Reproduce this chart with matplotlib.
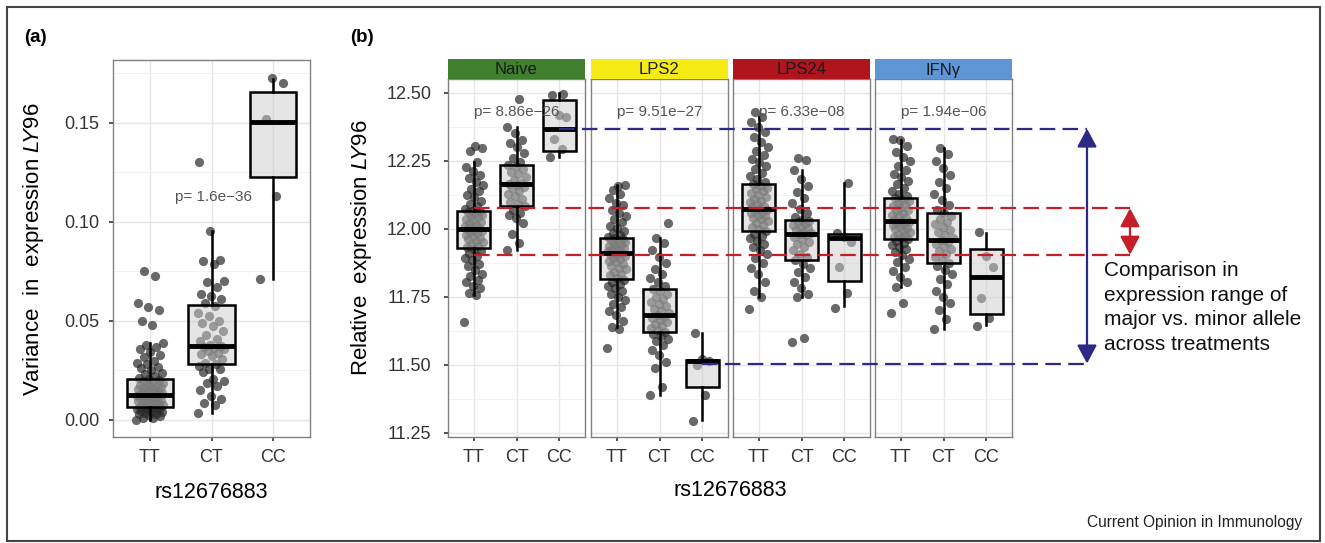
import matplotlib
matplotlib.use("Agg")
import matplotlib.pyplot as plt
import numpy as np
from matplotlib.patches import Rectangle, FancyArrowPatch
from matplotlib.lines import Line2D

plt.rcParams['font.family'] = ['Liberation Sans', 'DejaVu Sans']
plt.rcParams['mathtext.fontset'] = 'custom'
plt.rcParams['mathtext.rm'] = 'Liberation Sans'
plt.rcParams['mathtext.it'] = 'Liberation Sans:italic'

# ---------------- data ----------------
genotypes = ['TT', 'CT', 'CC']
snp = 'rs12676883'

# panel (a): variance in expression per donor
var_tt = [0.000, 0.001, 0.001, 0.002, 0.0025, 0.003, 0.003, 0.0035, 0.004, 0.004, 0.0045, 0.005,
          0.005, 0.0055, 0.006, 0.006, 0.0062, 0.0064, 0.0066, 0.007,
          0.0072, 0.0076, 0.008, 0.0083, 0.0087, 0.009, 0.0094, 0.0098, 0.010, 0.0103, 0.0107,
          0.011, 0.0113, 0.0116, 0.012, 0.0121, 0.0123, 0.0124, 0.0125, 0.0126,
          0.0129, 0.0132, 0.0136, 0.0139, 0.0143, 0.0147, 0.015, 0.0154, 0.0158, 0.0162,
          0.0166, 0.017, 0.0174, 0.0178, 0.0183, 0.0188, 0.0192, 0.0197, 0.0201, 0.0205,
          0.021, 0.022, 0.023, 0.0238, 0.025, 0.026, 0.0268, 0.028, 0.029, 0.030, 0.032,
          0.033, 0.0345, 0.036, 0.037, 0.038, 0.0386, 0.048, 0.050, 0.0554, 0.057, 0.059,
          0.0727, 0.0752]
var_ct = [0.0034, 0.0075, 0.0088, 0.0104, 0.0121, 0.0150, 0.0172, 0.0189, 0.0197, 0.0205,
          0.024, 0.0256, 0.0256, 0.027, 0.028, 0.029, 0.0306, 0.0323, 0.0332, 0.034, 0.035,
          0.036, 0.0365, 0.037, 0.0374, 0.038, 0.040, 0.041, 0.043, 0.045, 0.0475, 0.049,
          0.050, 0.0525, 0.054, 0.0576, 0.059, 0.061, 0.0626, 0.0635, 0.067, 0.0694, 0.070,
          0.0786, 0.0803, 0.0808, 0.0953, 0.130]
var_cc = [0.0713, 0.1133, 0.1518, 0.170, 0.1728]
# box stats: whislo, q1, median, q3, whishi
var_box = [[0.0, 0.0067, 0.0126, 0.0205, 0.0386],
           [0.0034, 0.0282, 0.0372, 0.0582, 0.0953],
           [0.0713, 0.1225, 0.1505, 0.1654, 0.1720]]
var_p = 'p= 1.6e\u221236'

# panel (b): relative expression per treatment
treatments = ['Naive', 'LPS2', 'LPS24', 'IFN\u03b3']
strip_colors = ['#3f7f2e', '#f5ec16', '#b0151d', '#5e95d5']
pvalues = ['p= 8.86e\u221226', 'p= 9.51e\u221227', 'p= 6.33e\u221208', 'p= 1.94e\u221206']

naive_tt = [11.656, 11.758, 11.764, 11.781, 11.79, 11.803, 11.812, 11.826, 11.834, 11.85, 11.862,
            11.871, 11.885, 11.893, 11.902, 11.911, 11.918, 11.927,
            11.932, 11.938, 11.944, 11.951, 11.957, 11.962, 11.968, 11.973, 11.977, 11.984,
            11.988, 11.993, 11.997, 12.0, 12.002,
            12.006, 12.011, 12.015, 12.021, 12.027, 12.031, 12.036, 12.043, 12.047, 12.052,
            12.058, 12.061, 12.064, 12.067,
            12.072, 12.083, 12.091, 12.104, 12.118, 12.126, 12.139, 12.147, 12.162, 12.171,
            12.186, 12.198, 12.214, 12.229, 12.247, 12.288, 12.298, 12.305]
naive_ct = [11.922, 11.949, 11.98, 12.022, 12.04, 12.052, 12.059, 12.07, 12.085, 12.09, 12.10,
            12.11, 12.12, 12.13, 12.14, 12.15, 12.155, 12.16, 12.165, 12.17, 12.18, 12.19,
            12.20, 12.21, 12.22, 12.23, 12.236, 12.245, 12.26, 12.28, 12.30, 12.315, 12.327,
            12.352, 12.373, 12.478]
naive_cc = [12.265, 12.292, 12.329, 12.41, 12.418, 12.494, 12.497]

lps2_tt = [11.562, 11.632, 11.641, 11.662, 11.684, 11.699, 11.712, 11.724, 11.738, 11.749,
           11.761, 11.772, 11.781, 11.79, 11.798, 11.806, 11.813,
           11.82, 11.829, 11.836, 11.843, 11.851, 11.858, 11.864, 11.871, 11.877, 11.883,
           11.889, 11.894, 11.899, 11.904, 11.908, 11.91,
           11.913, 11.917, 11.921, 11.925, 11.93, 11.934, 11.938, 11.942, 11.946, 11.95,
           11.954, 11.958, 11.962, 11.966,
           11.971, 11.978, 11.986, 11.994, 12.003, 12.012, 12.024, 12.035, 12.047, 12.058,
           12.071, 12.086, 12.097, 12.112, 12.128, 12.143, 12.161, 12.158]
lps2_ct = [11.391, 11.42, 11.488, 11.512, 11.535, 11.556, 11.573, 11.588, 11.597, 11.606,
           11.614, 11.621, 11.628, 11.636, 11.643, 11.651, 11.657, 11.664, 11.671, 11.677,
           11.683, 11.69, 11.698, 11.707, 11.716, 11.725, 11.733, 11.742, 11.751, 11.762,
           11.771, 11.78, 11.789, 11.803, 11.818, 11.835, 11.852, 11.874, 11.897, 11.921,
           11.947, 11.966, 12.023]
lps2_cc = [11.295, 11.39, 11.50, 11.513, 11.52, 11.617]

lps24_tt = [11.705, 11.751, 11.772, 11.806, 11.834, 11.857, 11.876, 11.893, 11.908, 11.921,
            11.934, 11.946, 11.957, 11.966, 11.975, 11.983, 11.992,
            11.999, 12.007, 12.014, 12.021, 12.029, 12.035, 12.041, 12.047, 12.052, 12.057,
            12.062, 12.066, 12.07, 12.074,
            12.079, 12.085, 12.091, 12.098, 12.104, 12.111, 12.117, 12.124, 12.131, 12.138,
            12.146, 12.152, 12.159, 12.165,
            12.173, 12.184, 12.196, 12.207, 12.219, 12.232, 12.245, 12.258, 12.271, 12.286,
            12.302, 12.318, 12.336, 12.355, 12.374, 12.393, 12.412, 12.43]
lps24_ct = [11.586, 11.599, 11.751, 11.762, 11.781, 11.803, 11.824, 11.842, 11.858, 11.871,
            11.886, 11.897, 11.909, 11.921, 11.932, 11.944, 11.953, 11.962, 11.97, 11.976,
            11.981, 11.985, 11.99, 11.996, 12.002, 12.008, 12.013, 12.019, 12.024, 12.029,
            12.033, 12.042, 12.058, 12.073, 12.094, 12.112, 12.136, 12.158, 12.183, 12.216,
            12.253, 12.259]
lps24_cc = [11.709, 11.764, 11.86, 11.95, 11.972, 11.985, 12.167]

ifng_tt = [11.69, 11.727, 11.788, 11.805, 11.824, 11.846, 11.861, 11.878, 11.891, 11.903,
           11.914, 11.925, 11.933, 11.941, 11.948, 11.955, 11.962,
           11.967, 11.972, 11.978, 11.983, 11.989, 11.994, 11.999, 12.004, 12.009, 12.014,
           12.018, 12.022, 12.026, 12.029,
           12.034, 12.04, 12.046, 12.052, 12.058, 12.064, 12.07, 12.077, 12.083, 12.09,
           12.097, 12.104, 12.108, 12.112,
           12.121, 12.13, 12.141, 12.152, 12.164, 12.177, 12.189, 12.203, 12.218, 12.232,
           12.249, 12.266, 12.284, 12.303, 12.326, 12.331]
ifng_ct = [11.632, 11.668, 11.702, 11.728, 11.751, 11.773, 11.796, 11.815, 11.834, 11.849,
           11.863, 11.876, 11.885, 11.897, 11.908, 11.918, 11.927, 11.936, 11.944, 11.951,
           11.959, 11.968, 11.977, 11.987, 11.996, 12.006, 12.017, 12.027, 12.036, 12.046,
           12.057, 12.071, 12.089, 12.108, 12.129, 12.151, 12.174, 12.198, 12.224, 12.251,
           12.275, 12.296]
ifng_cc = [11.644, 11.672, 11.745, 11.86, 11.90, 11.988]

expr_points = [[naive_tt, naive_ct, naive_cc],
               [lps2_tt, lps2_ct, lps2_cc],
               [lps24_tt, lps24_ct, lps24_cc],
               [ifng_tt, ifng_ct, ifng_cc]]
# box stats: whislo, q1, median, q3, whishi
naive_box = [[11.758, 11.928, 12.001, 12.066, 12.247],
             [11.923, 12.085, 12.165, 12.236, 12.373],
             [12.265, 12.288, 12.369, 12.472, 12.498]]
lps2_box = [[11.641, 11.815, 11.910, 11.966, 12.161],
            [11.391, 11.621, 11.683, 11.780, 11.966],
            [11.299, 11.418, 11.513, 11.519, 11.617]]
lps24_box = [[11.751, 11.994, 12.074, 12.165, 12.412],
             [11.751, 11.886, 11.981, 12.033, 12.216],
             [11.715, 11.810, 11.966, 11.981, 12.167]]
ifng_box = [[11.788, 11.963, 12.029, 12.112, 12.326],
            [11.632, 11.876, 11.959, 12.057, 12.296],
            [11.647, 11.688, 11.822, 11.925, 11.986]]
expr_box = [naive_box, lps2_box, lps24_box, ifng_box]

# comparison lines: range of TT medians (red) and CC medians (blue)
major_range = [11.905, 12.076]
minor_range = [11.505, 12.369]
note = 'Comparison in\nexpression range of\nmajor vs. minor allele\nacross treatments'

# ---------------- figure ----------------
W, H = 1325, 543
fig = plt.figure(figsize=(W / 100, H / 100), dpi=100)


def px_axes(x0, y0, x1, y1):
    return fig.add_axes([x0 / W, 1 - y1 / H, (x1 - x0) / W, (y1 - y0) / H])


def style_axes(ax, ypad):
    for s in ax.spines.values():
        s.set_color('#808080')
        s.set_linewidth(1.0)
    ax.set_axisbelow(True)
    ax.grid(True, which='major', color='#e6e6e6', lw=1.0)
    ax.grid(True, which='minor', axis='y', color='#f0f0f0', lw=0.6)
    ax.tick_params(axis='both', which='major', length=3, width=1.2, color='#333333',
                   labelsize=13, labelcolor='#333333')
    ax.tick_params(axis='x', pad=6)
    ax.tick_params(axis='y', pad=ypad)
    ax.tick_params(axis='y', which='minor', length=0)


def draw_group(ax, pts, box):
    pos = np.arange(1, len(pts) + 1)
    for p, vals in zip(pos, pts):
        n = len(vals)
        jit = ((np.arange(n) * 0.6180339887) % 1 - 0.5) * 0.44
        ax.scatter(p + jit, vals, s=44, color='#2a2a2a', alpha=0.7, lw=0, zorder=2)
    stats = [dict(whislo=b[0], q1=b[1], med=b[2], q3=b[3], whishi=b[4]) for b in box]
    ax.bxp(stats, positions=pos, widths=0.76, patch_artist=True, showfliers=False,
           showcaps=False, zorder=3,
           boxprops=dict(facecolor=(0.8, 0.8, 0.8, 0.5), edgecolor='black', lw=1.8),
           whiskerprops=dict(color='black', lw=1.8),
           medianprops=dict(color='black', lw=3.5, solid_capstyle='butt'))
    ax.set_xlim(0.4, 3.6)
    ax.set_xticks(pos)
    ax.set_xticklabels(genotypes)


# panel (a)
ax_a = px_axes(113, 60, 310, 437)
draw_group(ax_a, [var_tt, var_ct, var_cc], var_box)
ax_a.set_ylim(-0.0086, 0.1817)
ax_a.set_yticks([0.0, 0.05, 0.10, 0.15])
ax_a.set_yticklabels(['0.00', '0.05', '0.10', '0.15'])
ax_a.set_yticks([0.025, 0.075, 0.125, 0.175], minor=True)
style_axes(ax_a, 7)
ax_a.text(2.03, 0.1127, var_p, ha='center', va='center', fontsize=11, color='#555555')

# panel (b)
facet_x = [448, 591, 733, 875]
facet_w = 137
axes_b = []
for i, name in enumerate(treatments):
    ax = px_axes(facet_x[i], 79, facet_x[i] + facet_w, 437)
    draw_group(ax, expr_points[i], expr_box[i])
    ax.set_ylim(11.235, 12.551)
    ax.set_yticks([11.25, 11.50, 11.75, 12.00, 12.25, 12.50])
    ax.set_yticks([11.375, 11.625, 11.875, 12.125, 12.375], minor=True)
    style_axes(ax, 9)
    if i == 0:
        ax.set_yticklabels(['11.25', '11.50', '11.75', '12.00', '12.25', '12.50'])
    else:
        ax.tick_params(axis='y', which='major', length=0, labelleft=False)
    ax.text(2, 12.431, pvalues[i], ha='center', va='center', fontsize=11, color='#555555',
            zorder=5)
    st = px_axes(facet_x[i], 59, facet_x[i] + facet_w, 79)
    st.set_facecolor(strip_colors[i])
    st.set_xticks([])
    st.set_yticks([])
    for s in st.spines.values():
        s.set_visible(False)
    st.text(0.5, 0.45, name, ha='center', va='center', fontsize=12, color='#1a1a1a',
            transform=st.transAxes)
    axes_b.append(ax)

inv = fig.transFigure.inverted()


def to_fig(ax, x, y):
    return inv.transform(ax.transData.transform((x, y)))


blue = '#2c2a86'
red = '#c41e26'
dash = (7, 3.3)
x_blue = 1087 / W
x_red = 1130 / W

lines = [(axes_b[0], 1, major_range[1], x_red, red),
         (axes_b[0], 1, major_range[0], x_red, red),
         (axes_b[0], 3, minor_range[1], x_blue, blue),
         (axes_b[1], 3, minor_range[0], x_blue, blue)]
for ax, gx, yv, xend, col in lines:
    x0, y0 = to_fig(ax, gx, yv)
    fig.add_artist(Line2D([x0, xend], [y0, y0], transform=fig.transFigure, color=col,
                          lw=1.6, dashes=dash, zorder=10))

for rng, xpos, col in [(minor_range, x_blue, blue), (major_range, x_red, red)]:
    _, ylo = to_fig(axes_b[0], 1, rng[0])
    _, yhi = to_fig(axes_b[0], 1, rng[1])
    fig.add_artist(FancyArrowPatch((xpos, ylo), (xpos, yhi), transform=fig.transFigure,
                                   arrowstyle='<|-|>,head_length=0.75,head_width=0.4',
                                   mutation_scale=15, color=col, lw=1.6,
                                   shrinkA=0, shrinkB=0, zorder=10))

fig.text(1104 / W, 1 - 261 / H, note, ha='left', va='top', fontsize=15,
         linespacing=1.38, color='#111111')

# titles and axis labels
fig.text(24 / W, 1 - 37 / H, '(a)', fontsize=13.5, fontweight='bold', va='center')
fig.text(350 / W, 1 - 37 / H, '(b)', fontsize=13.5, fontweight='bold', va='center')
fig.text(34 / W, 1 - 249 / H, 'Variance  in  expression $\\mathit{L\\!Y96}$', rotation=90,
         ha='center', va='center', fontsize=16)
fig.text(362 / W, 1 - 248 / H, 'Relative  expression $\\mathit{L\\!Y96}$', rotation=90,
         ha='center', va='center', fontsize=16)
fig.text(211 / W, 1 - 492 / H, snp, ha='center', va='center', fontsize=15.5)
fig.text(730 / W, 1 - 491 / H, snp, ha='center', va='center', fontsize=15.5)
fig.text(1302 / W, 1 - 523 / H, 'Current Opinion in Immunology', ha='right', va='center',
         fontsize=11.2, color='#222222')

fig.add_artist(Rectangle((7 / W, 1 - 541 / H), 1313 / W, 534 / H, transform=fig.transFigure,
                         fill=False, edgecolor='#444444', lw=1.5))

fig.savefig('out.png', dpi=100)
